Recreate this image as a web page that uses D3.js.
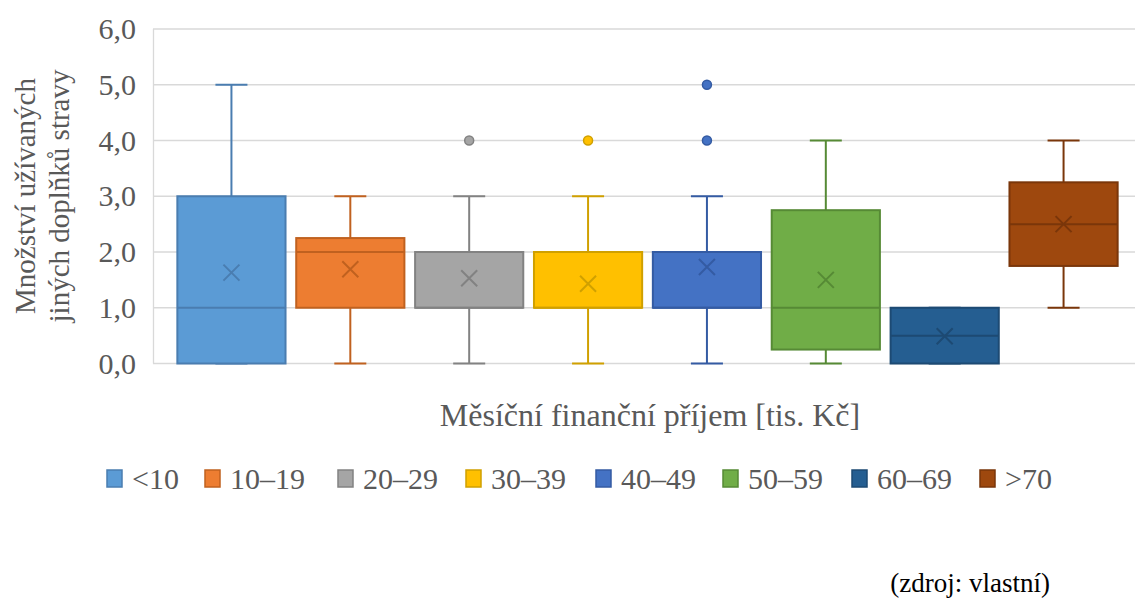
<!DOCTYPE html>
<html><head><meta charset="utf-8">
<script src="https://cdn.jsdelivr.net/npm/d3@7"></script>
</head><body style="margin:0">
<svg id="c" width="1135" height="599"></svg>
<script>
const categories = ["<10","10–19","20–29","30–39","40–49","50–59","60–69",">70"];
const whiskerLow  = [0, 0, 0, 0, 0, 0, 0, 1];
const q1          = [0, 1, 1, 1, 1, 0.25, 0, 1.75];
const median      = [1, 2, 1, 1, 1, 1, 0.5, 2.5];
const q3          = [3, 2.25, 2, 2, 2, 2.75, 1, 3.25];
const whiskerHigh = [5, 3, 3, 3, 3, 4, 1, 4];
const means       = [1.63, 1.69, 1.53, 1.43, 1.73, 1.5, 0.49, 2.5];
const outliers    = [[], [], [4], [4], [4, 5], [], [], []];
const yTicks = [0,1,2,3,4,5,6];
const fills   = ["#5B9BD5","#ED7D31","#A5A5A5","#FFC000","#4472C4","#70AD47","#255E91","#9E480E"];
const strokes = ["#4A7DB0","#C0611F","#828282","#D0A000","#345BA3","#568A35","#1D4A73","#7A360A"];
const yTitle = ["Množství užívaných","jiných doplňků stravy"];
const xTitle = "Měsíční finanční příjem [tis. Kč]";
const source = "(zdroj: vlastní)";

const FONT = "Liberation Serif";
const svg = d3.select("#c");
const y = d3.scaleLinear().domain([0,6]).range([363.5,29]);
const x = d3.scaleBand().domain(categories).range([172,1123]).paddingInner(0.09).paddingOuter(0.045);

function txt(sel){ return sel.attr("font-family",FONT).style("font-family",FONT); }

// gridlines
svg.append("g").selectAll("line").data(yTicks).join("line")
  .attr("x1",153).attr("x2",1140).attr("y1",d=>y(d)).attr("y2",d=>y(d))
  .attr("stroke","#D9D9D9").attr("stroke-width",1.3);
svg.append("line").attr("x1",153.5).attr("x2",153.5).attr("y1",y(6)).attr("y2",y(0)).attr("stroke","#D9D9D9").attr("stroke-width",1.3);

// y tick labels
yTicks.forEach(d=>{
  txt(svg.append("text")).attr("x",136).attr("y",y(d)+10).attr("text-anchor","end")
    .attr("font-size",30).attr("fill","#595959").text(d3.format(".1f")(d).replace(".",","));
});

// y title
yTitle.forEach((t,i)=>{
  txt(svg.append("text")).attr("transform",`translate(${35+i*34},196) rotate(-90)`).attr("text-anchor","middle")
    .attr("font-size",29).attr("fill","#595959").text(t);
});

// boxes
const g = svg.append("g");
categories.forEach((c,i)=>{
  const x0 = x(c), w = x.bandwidth(), cx = x0 + w/2, cap = 16;
  const gg = g.append("g");
  gg.append("line").attr("x1",cx).attr("x2",cx).attr("y1",y(whiskerHigh[i])).attr("y2",y(q3[i])).attr("stroke",strokes[i]).attr("stroke-width",2);
  gg.append("line").attr("x1",cx).attr("x2",cx).attr("y1",y(q1[i])).attr("y2",y(whiskerLow[i])).attr("stroke",strokes[i]).attr("stroke-width",2);
  [whiskerHigh[i], whiskerLow[i]].forEach(v=>{
    gg.append("line").attr("x1",cx-cap).attr("x2",cx+cap).attr("y1",y(v)).attr("y2",y(v)).attr("stroke",strokes[i]).attr("stroke-width",2);
  });
  gg.append("rect").attr("x",x0).attr("y",y(q3[i])).attr("width",w).attr("height",y(q1[i])-y(q3[i]))
    .attr("fill",fills[i]).attr("stroke",strokes[i]).attr("stroke-width",2);
  gg.append("line").attr("x1",x0).attr("x2",x0+w).attr("y1",y(median[i])).attr("y2",y(median[i])).attr("stroke",strokes[i]).attr("stroke-width",2);
  const my = y(means[i]), s = 8;
  gg.append("path").attr("d",`M${cx-s},${my-s}L${cx+s},${my+s}M${cx-s},${my+s}L${cx+s},${my-s}`).attr("stroke",strokes[i]).attr("stroke-width",2).attr("fill","none");
  outliers[i].forEach(v=>{
    gg.append("circle").attr("cx",cx).attr("cy",y(v)).attr("r",4.5).attr("fill",fills[i]).attr("stroke",strokes[i]).attr("stroke-width",1.5);
  });
});

// x title
txt(svg.append("text")).attr("x",650).attr("y",426).attr("text-anchor","middle").attr("font-size",32).attr("fill","#595959").text(xTitle);

// legend
const legendX = [107,205,338,466,596,723,852,980];
categories.forEach((c,i)=>{
  svg.append("rect").attr("x",legendX[i]).attr("y",470).attr("width",15).attr("height",17).attr("fill",fills[i]).attr("stroke",strokes[i]).attr("stroke-width",1.5);
  txt(svg.append("text")).attr("x",legendX[i]+25).attr("y",489).attr("font-size",30).attr("fill","#595959").text(c);
});

// source
txt(svg.append("text")).attr("x",1050).attr("y",592).attr("text-anchor","end").attr("font-size",27).attr("fill","#000").text(source);
</script>
</body></html>
